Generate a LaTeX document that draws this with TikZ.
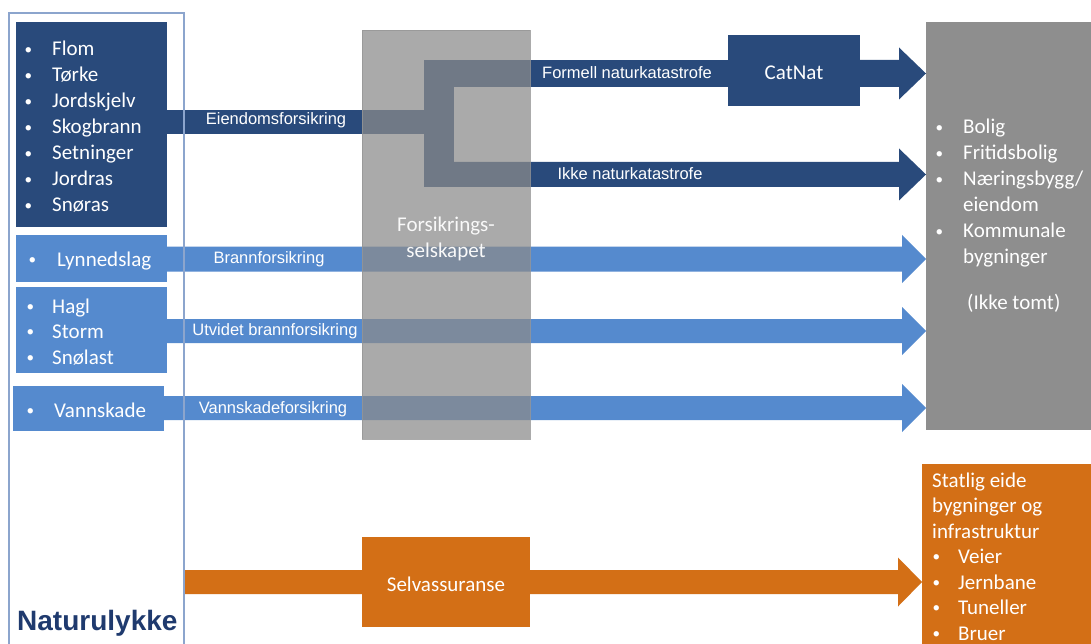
\documentclass[tikz,border=0pt]{standalone}
\usepackage{fontspec}
\usepackage{graphicx}
\setmainfont{Carlito}
\newfontfamily\arialf{Liberation Sans}
\usetikzlibrary{calc}

\definecolor{dblue}{RGB}{41,74,123}
\definecolor{lblue}{RGB}{85,138,206}
\definecolor{orng}{RGB}{211,111,22}
\definecolor{rgray}{RGB}{142,142,142}
\definecolor{mgray}{RGB}{139,139,139}
\definecolor{gedge}{RGB}{150,150,150}
\definecolor{framec}{RGB}{140,165,205}
\definecolor{ntitle}{RGB}{31,58,110}

% bulleted list entry and its hanging continuation
\newcommand\smallbullet{\hspace*{-3.5pt}\raisebox{1.6pt}{\scalebox{0.72}{•}}}
\newcommand\itm[2][24pt]{\makebox[#1][l]{\smallbullet}#2}
\newcommand\cont[2][24pt]{\hspace*{#1}#2}

\begin{document}
\begin{tikzpicture}[x=1pt,y=-1pt,
  box/.style={inner sep=0pt, outer sep=0pt, anchor=north west, draw=none},
  lst/.style={inner sep=0pt, anchor=base west, text=white, font=\fontsize{21}{26}\selectfont},
  lbl/.style={inner sep=0pt, anchor=base, text=white, font=\arialf\fontsize{16.5}{20}\selectfont},
  captxt/.style={inner sep=0pt, anchor=base, text=white, font=\fontsize{21}{26}\selectfont},
  % wide arrow: half shaft width, head length, half head width
  fat/.style n args={3}{to path={let \p1=(\tikztostart), \p2=(\tikztotarget) in
     (\x1,\y1+#1pt) -- (\x2-#2pt,\y1+#1pt) -- (\x2-#2pt,\y1+#3pt) -- (\x2,\y1)
     -- (\x2-#2pt,\y1-#3pt) -- (\x2-#2pt,\y1-#1pt) -- (\x1,\y1-#1pt) -- cycle}},
]
\useasboundingbox[fill=white] (0,0) rectangle (1091,644);

% rows of the flows
\coordinate (r1) at (0,122);
\coordinate (rF) at (0,73.5);
\coordinate (rI) at (0,174.5);
\coordinate (r2) at (0,259);
\coordinate (r3) at (0,331);
\coordinate (r4) at (0,408);
\coordinate (r5) at (0,582);
\coordinate (fr) at (184,582);
\coordinate (forkTL) at (424,60);
\coordinate (forkBR) at (454,187);

% source, target and intermediate boxes
\node[box, fill=dblue, minimum width=151, minimum height=205] (eien) at (16,22) {};
\node[box, fill=lblue, minimum width=151, minimum height=47] (lyn) at (16,235) {};
\node[box, fill=lblue, minimum width=151, minimum height=86] (hagl) at (16,287) {};
\node[box, fill=lblue, minimum width=151, minimum height=45] (vann) at (13,386) {};
\node[box, fill=dblue, minimum width=132, minimum height=71] (catnat) at (728,35) {};
\node[box, fill=rgray, minimum width=165, minimum height=408] (right) at (926,22) {};
\node[box, fill=orng, minimum width=169, minimum height=180] (stat) at (922,464) {};

% property insurance and its fork
\fill[dblue] (eien.east |- 0,110) rectangle (forkTL |- 0,134);
\fill[dblue] (forkTL) rectangle (forkBR);
\fill[dblue] (forkBR |- forkTL) rectangle (catnat.west |- 0,87);
\path[fill=dblue, fat={12.5}{27}{26}] (forkBR |- rI) to (right.west |- rI);
\path[fill=dblue, fat={13.5}{27}{26}] (catnat.east |- rF) to (right.west |- rF);

% fire, extended fire and water damage
\path[fill=lblue, fat={12.5}{24}{24}] (lyn.east |- r2) to (right.west |- r2);
\path[fill=lblue, fat={12}{24}{24}] (hagl.east |- r3) to (right.west |- r3);
\path[fill=lblue, fat={12}{24}{24}] (vann.east |- r4) to (right.west |- r4);

% self insurance
\path[fill=orng, fat={12}{24}{24.5}] (fr |- r5) to (stat.west |- r5);
\node[box, fill=orng, minimum width=168, minimum height=90] (selv) at (362,537) {};

% insurance company, laid over the flows
\node[box, fill=mgray, fill opacity=0.73, draw=gedge, draw opacity=0.8, line width=0.8pt,
      minimum width=168, minimum height=409] (gbox) at (362,30) {};
\node[captxt, text=white!95!gray] at (gbox.north |- 0,232)
  {\begin{tabular}[t]{@{}c@{}}Forsikrings-\\ selskapet\end{tabular}};

% lists
\node[lst] at (28,56) {\begin{tabular}[t]{@{}l@{}}
  \itm{Flom}\\ \itm{Tørke}\\ \itm{Jordskjelv}\\ \itm{Skogbrann}\\
  \itm{Setninger}\\ \itm{Jordras}\\ \itm{Snøras}\end{tabular}};
\node[lst] at (32,266) {\itm[25pt]{Lynnedslag}};
\node[lst, font=\fontsize{21}{25.5}\selectfont] at (30,313) {\begin{tabular}[t]{@{}l@{}}
  \itm[22pt]{Hagl}\\ \itm[22pt]{Storm}\\ \itm[22pt]{Snølast}\end{tabular}};
\node[lst] at (30,417) {\itm{Vannskade}};
\node[lst] at (939,134) {\begin{tabular}[t]{@{}l@{}}
  \itm{Bolig}\\ \itm{Fritidsbolig}\\ \itm{Næringsbygg/}\\ \cont{eiendom}\\
  \itm{Kommunale}\\ \cont{bygninger}\\[20pt] \hspace*{28pt}(Ikke tomt)\end{tabular}};
\node[lst, font=\fontsize{21}{25.5}\selectfont] at (932,487) {\begin{tabular}[t]{@{}l@{}}
  Statlig eide\\ bygninger og\\ infrastruktur\\
  \cont[4pt]{\itm[22pt]{Veier}}\\ \cont[4pt]{\itm[22pt]{Jernbane}}\\
  \cont[4pt]{\itm[22pt]{Tuneller}}\\ \cont[4pt]{\itm[22pt]{Bruer}}\end{tabular}};

\node[captxt] at (catnat.center |- 0,80) {CatNat};
\node[captxt] at (selv.center |- 0,591) {Selvassuranse};

% flow labels
\node[lbl] at (276,125) {Eiendomsforsikring};
\node[lbl] at (627,79) {Formell naturkatastrofe};
\node[lbl] at (630,180) {Ikke naturkatastrofe};
\node[lbl] at (269,263) {Brannforsikring};
\node[lbl] at (275,335) {Utvidet brannforsikring};
\node[lbl] at (273,413) {Vannskadeforsikring};

% natural hazards frame
\draw[framec, line width=1.2pt] (9,644) -- (9,13) -- (184,13) -- (184,644);
\node[inner sep=0pt, anchor=base west, text=ntitle, font=\arialf\bfseries\fontsize{28}{32}\selectfont]
  at (17,630) {Naturulykke};
\end{tikzpicture}
\end{document}
